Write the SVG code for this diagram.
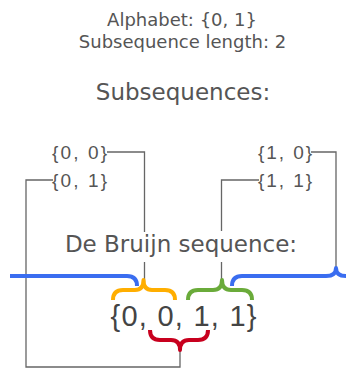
<svg xmlns="http://www.w3.org/2000/svg" width="346" height="369" viewBox="0 0 346 369">
<style>
text{font-family:"DejaVu Sans",sans-serif;fill:#555}
.t{font-size:18px;text-anchor:middle}
.h{font-size:23px;text-anchor:middle}
.l{font-size:19px;font-family:"Liberation Sans",Arial,sans-serif}
.seq{font-size:29px;font-family:"Liberation Sans",Arial,sans-serif;fill:#444}
.c{fill:none;stroke:#666;stroke-width:1.3}
.b{fill:none;stroke-width:4;stroke-linecap:butt;stroke-linejoin:round}
</style>
<rect width="346" height="369" fill="#fff"/>
<g id="title">
<text class="t" x="182" y="26">Alphabet: {0, 1}</text>
<text class="t" x="182.5" y="48">Subsequence length: 2</text>
</g>
<g id="subseq-heading"><text class="h" x="183" y="100">Subsequences:</text></g>
<g id="connectors">
<path class="c" d="M107,152 H144.5 V232 M144.5,262 V282"/>
<path class="c" d="M53,180 H26 V367 H180 V350"/>
<path class="c" d="M311,152 H336 V268"/>
<path class="c" d="M259,180 H221.5 V231 M221.5,262 V282"/>
</g>
<g id="s00"><text class="l" x="52" y="159" textLength="55" lengthAdjust="spacing">{0, 0}</text></g>
<g id="s01"><text class="l" x="52" y="187" textLength="55" lengthAdjust="spacing">{0, 1}</text></g>
<g id="s10"><text class="l" x="258" y="159" textLength="54" lengthAdjust="spacing">{1, 0}</text></g>
<g id="s11"><text class="l" x="258" y="187" textLength="54" lengthAdjust="spacing">{1, 1}</text></g>
<g id="db-heading"><text class="h" x="181" y="252">De Bruijn sequence:</text></g>
<g id="brackets">
<path class="b" stroke="#3a6df0" d="M10,276 H127 Q137,276 137,286 M232,286 Q232,276 242,276 H326 Q336,276 336,268 Q336,276 346,276 H350"/>
<path class="b" stroke="#ffae00" d="M113,300 Q113,290 123,290 H135 Q143.5,290 143.5,280 Q143.5,290 152,290 H165 Q175,290 175,300"/>
<path class="b" stroke="#6aab3a" d="M188,300 Q188,290 198,290 H213 Q222,290 222,280 Q222,290 231,290 H242 Q252,290 252,300"/>
<path class="b" stroke="#c8001e" d="M150,330 Q150,340 160,340 H171 Q180,340 180,350 Q180,340 189,340 H198 Q208,340 208,330"/>
</g>
<g id="sequence"><text class="seq" x="110.5" y="326" textLength="146" lengthAdjust="spacing">{0, 0, 1, 1}</text></g>
</svg>
